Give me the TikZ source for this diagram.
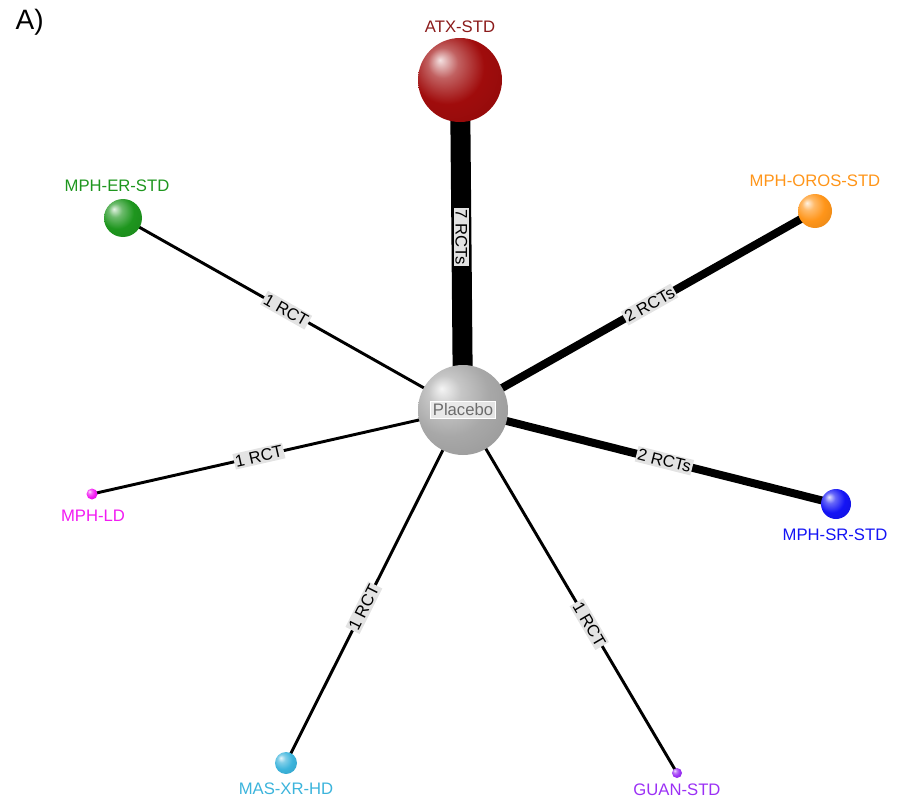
\documentclass[tikz,border=0pt]{standalone}
\usepackage{fontspec}
\setmainfont{Liberation Sans}
\usetikzlibrary{backgrounds}
% softer sphere shading: bright highlight, only slightly darkened rim
\makeatletter
\pgfdeclareradialshading[tikz@ball]{ball}{\pgfqpoint{-12bp}{12bp}}{%
  color(0bp)=(tikz@ball!12!white); color(9bp)=(tikz@ball!65!white);
  color(22bp)=(tikz@ball); color(42bp)=(tikz@ball!88!black);
  color(60bp)=(tikz@ball!72!black)}
\makeatother
\definecolor{atxc}{HTML}{A00C0C}
\definecolor{atxt}{HTML}{8B1A1A}
\definecolor{erc}{HTML}{1E961E}
\definecolor{orosc}{HTML}{FF9519}
\definecolor{ldc}{HTML}{F21BF2}
\definecolor{src}{HTML}{1414F5}
\definecolor{masc}{HTML}{3CB4DC}
\definecolor{guanc}{HTML}{9B30F5}
\definecolor{placeboc}{HTML}{A8A8A8}
\tikzset{
  ball/.style={circle, inner sep=0pt, minimum size=#1},
  trt/.style={font=\fontsize{12.5}{14}\selectfont},
  edgelab/.style={fill=gray!22, inner xsep=1pt, inner ysep=1.5pt, font=\fontsize{12.5}{14}\selectfont},
  link/.style={line width=#1, black},
}
\begin{document}
\begin{tikzpicture}[x=0.75pt,y=-0.75pt]
\useasboundingbox (0,0) rectangle (901,803);

% panel tag
\node[anchor=west, font=\fontsize{21}{25}\selectfont] (tag) at (11,22) {A)};

% treatment spheres
\node[ball=90*0.75pt, ball color=placeboc] (P) at (463,410) {};
\node[ball=84*0.75pt, ball color=atxc] (ATX) at (460,80) {};
\node[ball=38*0.75pt, ball color=erc] (ER) at (123,218) {};
\node[ball=34*0.75pt, ball color=orosc] (OROS) at (815,211) {};
\node[ball=11*0.75pt, ball color=ldc] (LD) at (92,494) {};
\node[ball=30*0.75pt, ball color=src] (SR) at (836,504) {};
\node[ball=22*0.75pt, ball color=masc] (MAS) at (286,763) {};
\node[ball=10*0.75pt, ball color=guanc] (GUAN) at (677,773) {};

% placebo caption
\node[fill=gray!12, fill opacity=0.85, text opacity=1, draw=white, line width=0.8pt,
      inner sep=1.5pt, text=gray!85!black, font=\fontsize{12.5}{14}\selectfont] (Plab) at (P.center) {Placebo};

% treatment captions
\node[trt, text=atxt] (ATXlab) at (460,27) {ATX-STD};
\node[trt, text=erc] (ERlab) at (117,186) {MPH-ER-STD};
\node[trt, text=orosc] (OROSlab) at (815,181) {MPH-OROS-STD};
\node[trt, text=ldc] (LDlab) at (93,516) {MPH-LD};
\node[trt, text=src] (SRlab) at (835,535) {MPH-SR-STD};
\node[trt, text=masc] (MASlab) at (286,789) {MAS-XR-HD};
\node[trt, text=guanc] (GUANlab) at (677,790) {GUAN-STD};

% comparisons, drawn beneath the spheres
\begin{scope}[on background layer]
\draw[link=15pt] (P.center) -- node[pos=0.524, edgelab, rotate=-90] {7 RCTs} (ATX.center);
\draw[link=6pt] (P.center) -- node[pos=0.53, edgelab, rotate=29.5] {2 RCTs} (OROS.center);
\draw[link=6pt] (P.center) -- node[pos=0.54, edgelab, rotate=-14.1] {2 RCTs} (SR.center);
\draw[link=2.2pt] (P.center) -- node[pos=0.52, edgelab, rotate=-29.5] {1 RCT} (ER.center);
\draw[link=2.2pt] (P.center) -- node[pos=0.55, edgelab, rotate=12.8] {1 RCT} (LD.center);
\draw[link=2.2pt] (P.center) -- node[pos=0.56, edgelab, rotate=63.4] {1 RCT} (MAS.center);
\draw[link=2.2pt] (P.center) -- node[pos=0.59, edgelab, rotate=-59.5] {1 RCT} (GUAN.center);
\end{scope}
\end{tikzpicture}
\end{document}
